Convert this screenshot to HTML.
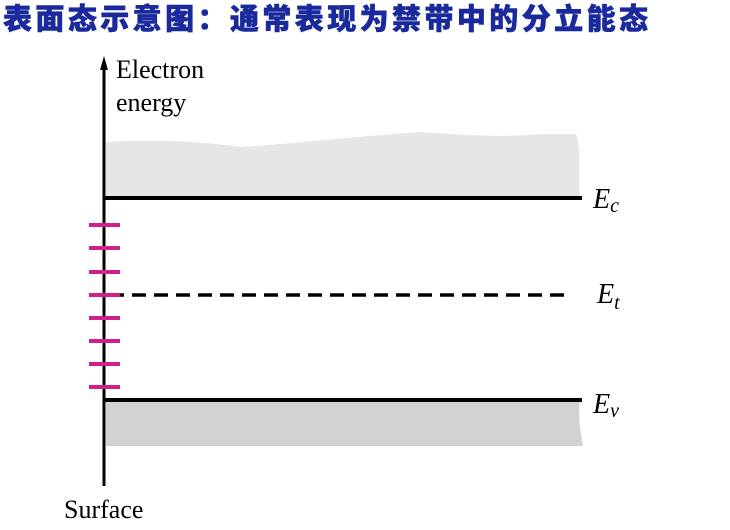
<!DOCTYPE html>
<html><head><meta charset="utf-8"><style>body{margin:0;background:#fff}svg{display:block}</style></head>
<body>
<svg width="730" height="530" xmlns="http://www.w3.org/2000/svg">
<text x="3" y="29" font-family="'Liberation Sans','Noto Sans CJK SC',sans-serif" font-weight="900" font-size="29" fill="#1a2a9c" stroke="#1a2a9c" stroke-width="0.6" textLength="645" lengthAdjust="spacing">表面态示意图：通常表现为禁带中的分立能态</text>
<path d="M106,142 C150,139 200,141 240,147 C300,143 350,137 420,132 C470,135 500,138 540,134 L576,134 C582,150 578,175 580,197 L106,197 Z" fill="#e6e6e6"/>
<path d="M106,401 L580,401 C578,415 580,430 583,446 L106,446 Z" fill="#d2d2d2"/>
<line x1="104" y1="66" x2="104" y2="486" stroke="#000" stroke-width="3"/>
<polygon points="104,56 100,70 108,70" fill="#000"/>
<line x1="103" y1="198" x2="582" y2="198" stroke="#000" stroke-width="4"/>
<line x1="103" y1="400" x2="582" y2="400" stroke="#000" stroke-width="4"/>
<line x1="110" y1="295" x2="572" y2="295" stroke="#000" stroke-width="3.5" stroke-dasharray="14,8"/>
<g stroke="#d0208a" stroke-width="4">
<line x1="89" y1="225" x2="120" y2="225"/><line x1="89" y1="248" x2="120" y2="248"/>
<line x1="89" y1="272" x2="120" y2="272"/><line x1="89" y1="295" x2="120" y2="295"/>
<line x1="89" y1="318" x2="120" y2="318"/><line x1="89" y1="341" x2="120" y2="341"/>
<line x1="89" y1="364" x2="120" y2="364"/><line x1="89" y1="387" x2="120" y2="387"/>
</g>
<g font-family="'Liberation Serif',serif" font-size="26" fill="#000">
<text x="116" y="78">Electron</text>
<text x="116" y="111">energy</text>
<text x="64" y="518">Surface</text>
<text x="593" y="208" font-size="28" font-style="italic">E<tspan font-size="20" dy="4">c</tspan></text>
<text x="597" y="303" font-size="28" font-style="italic">E<tspan font-size="20" dy="6">t</tspan></text>
<text x="593" y="413" font-size="28" font-style="italic">E<tspan font-size="20" dy="4">v</tspan></text>
</g>
</svg>
</body></html>
